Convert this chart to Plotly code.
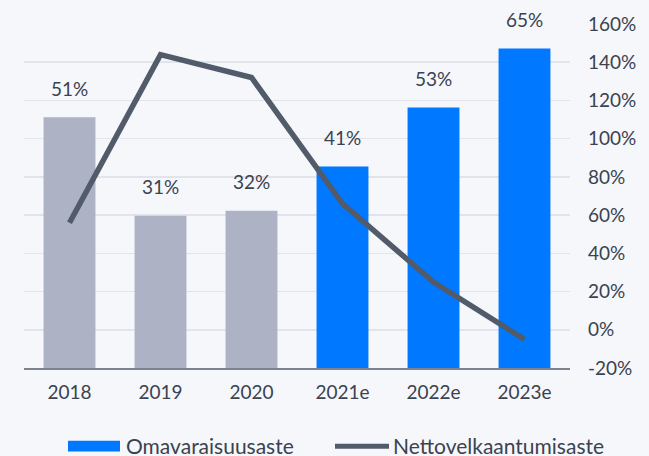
import plotly.graph_objects as go

categories = ["2018", "2019", "2020", "2021e", "2022e", "2023e"]
equity_ratio = [51, 31, 32, 41, 53, 65]          # Omavaraisuusaste (%)
net_gearing = [56, 144, 132, 66, 25, -5]           # Nettovelkaantumisaste (%)
bar_colors = ["#adb3c4", "#adb3c4", "#adb3c4", "#0078ff", "#0078ff", "#0078ff"]
right_ticks = [-20, 0, 20, 40, 60, 80, 100, 120, 140, 160]
series_names = ["Omavaraisuusaste", "Nettovelkaantumisaste"]

W, H = 649, 456
ML, MR, MT, MB = 24, 79, 18, 88
FONT = "Lato"
TXT = "#3b4250"
BG = "#f5f7fb"

xpos = list(range(len(categories)))

fig = go.Figure()
fig.add_trace(go.Bar(
    x=xpos, y=equity_ratio, marker_color=bar_colors, marker_line_width=0,
    yaxis="y", name=series_names[0], showlegend=False, hoverinfo="skip"))
fig.add_trace(go.Scatter(
    x=xpos, y=net_gearing, mode="lines", yaxis="y2",
    line=dict(color="#525b6a", width=5.5), name=series_names[1], showlegend=False,
    hoverinfo="skip"))

for i, v in zip(xpos, equity_ratio):
    fig.add_annotation(x=i, y=v, xref="x", yref="y", text=f"{v}%", showarrow=False,
                       yanchor="middle", yshift=29,
                       font=dict(family=FONT, size=19, color=TXT))

pw = W - ML - MR
ph = H - MT - MB
def px(x):
    return (x - ML) / pw
def py(y):
    return (H - MB - y) / ph

# manual legend
fig.add_shape(type="rect", xref="paper", yref="paper", x0=px(68), x1=px(120),
              y0=py(453), y1=py(442), fillcolor="#0078ff", line_width=0)
fig.add_shape(type="line", xref="paper", yref="paper", x0=px(335), x1=px(389),
              y0=py(447.5), y1=py(447.5), line=dict(color="#525b6a", width=5))
fig.add_annotation(xref="paper", yref="paper", x=px(124), y=py(447), text=series_names[0],
                   showarrow=False, xanchor="left", yanchor="middle",
                   font=dict(family=FONT, size=21, color=TXT))
fig.add_annotation(xref="paper", yref="paper", x=px(391), y=py(447), text=series_names[1],
                   showarrow=False, xanchor="left", yanchor="middle",
                   font=dict(family=FONT, size=21, color=TXT))

fig.update_layout(
    width=W, height=H,
    margin=dict(l=ML, r=MR, t=MT, b=MB, pad=0),
    paper_bgcolor=BG, plot_bgcolor=BG,
    bargap=0.43,
    font=dict(family=FONT, size=19, color=TXT),
    xaxis=dict(range=[-0.5, len(categories) - 0.5], tickvals=xpos, ticktext=categories,
               showgrid=False, zeroline=False, showline=True, linecolor="#7b838e",
               linewidth=2, ticks="", ticklabelstandoff=6,
               tickfont=dict(family=FONT, size=19, color=TXT)),
    yaxis=dict(range=[0, 70], visible=False, showgrid=False, fixedrange=True),
    yaxis2=dict(range=[-20, 160], overlaying="y", side="right", tickvals=right_ticks,
                ticktext=[f"{t}%" for t in right_ticks], showgrid=True,
                gridcolor="#e1e4eb", gridwidth=1.5, zeroline=False, showline=False,
                ticks="", ticklabelstandoff=17,
                tickfont=dict(family=FONT, size=19, color=TXT)),
)

fig.write_html(
    "out.html",
    config={"displayModeBar": False, "staticPlot": True},
    post_script="document.body.style.margin='0';document.body.style.background='%s';"
                "document.body.style.overflow='hidden';" % BG,
)
